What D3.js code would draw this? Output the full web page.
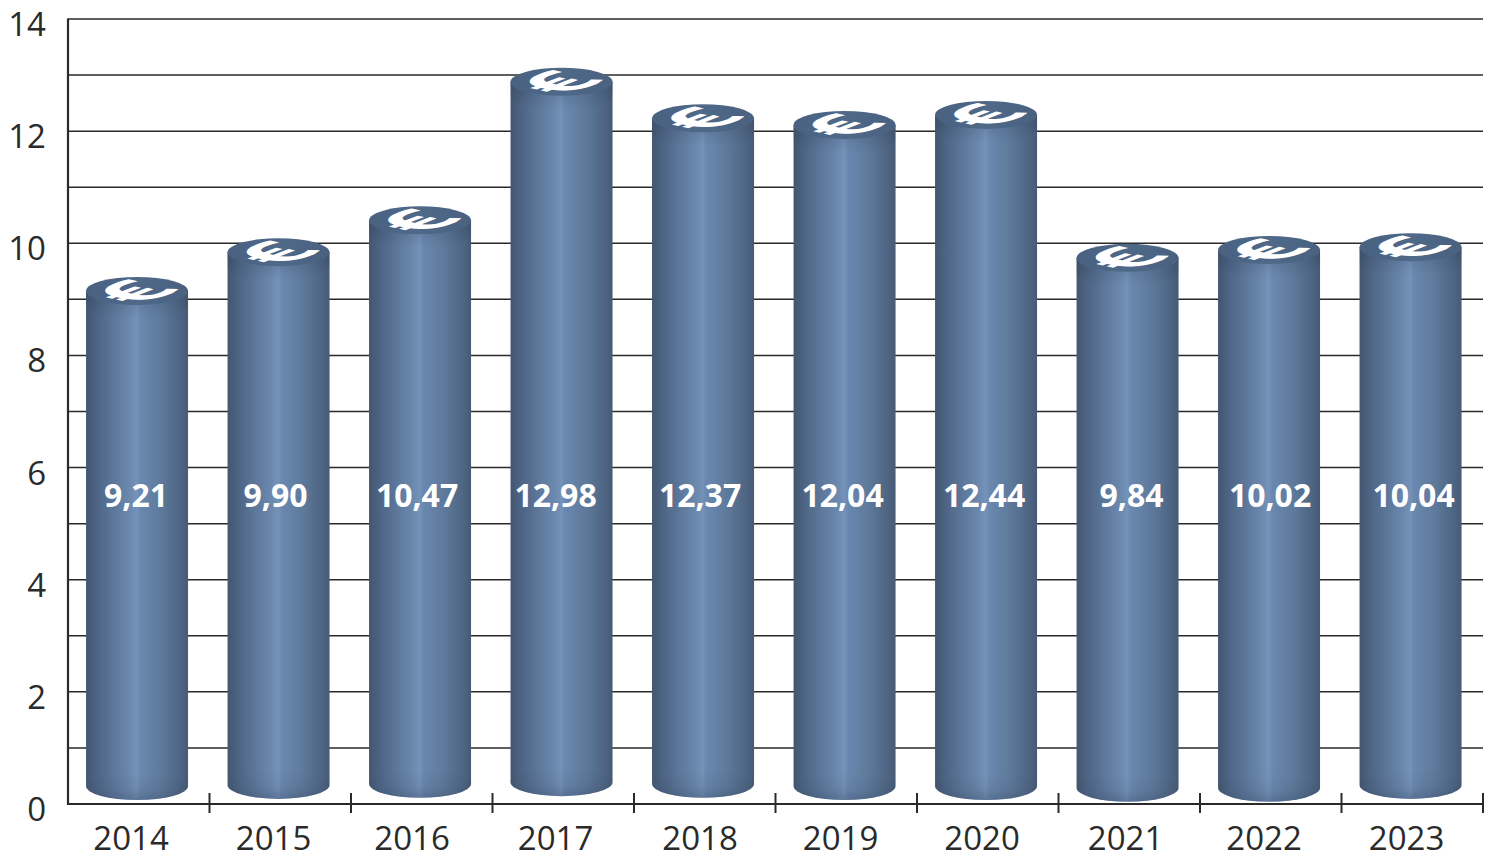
<!DOCTYPE html>
<html><head><meta charset="utf-8">
<script src="https://cdn.jsdelivr.net/npm/d3@7/dist/d3.min.js"></script>
<style>html,body{margin:0;padding:0;background:#fff}svg{display:block}text{font-family:"Open Sans","Noto Sans",sans-serif}</style>
</head><body><svg id="c" width="1500" height="865"></svg>
<script>
const years = ["2014","2015","2016","2017","2018","2019","2020","2021","2022","2023"];
const values = [9.21,9.90,10.47,12.98,12.37,12.04,12.44,9.84,10.02,10.04];
const valueLabels = ["9,21","9,90","10,47","12,98","12,37","12,04","12,44","9,84","10,02","10,04"];
// cylinder ends as actually drawn
const cylinderTop = [9.15,9.84,10.41,12.88,12.23,12.11,12.29,9.74,9.88,9.93];
const cylinderBase = [0.32,0.34,0.36,0.39,0.36,0.32,0.32,0.29,0.29,0.34];
const yTicks = d3.range(0,15,1);
const yLabelTicks = d3.range(0,15,2);

const W=1500,H=865,L=68,R=1483,T=19,B=804;
const svg=d3.select("#c");
const y=d3.scaleLinear().domain([0,14]).range([B,T]);
const x=d3.scaleBand().domain(years).range([L,R]).padding(0);
const barW=102, ry=14, shift=-1.7;
const cx=d=>x(d)+x.bandwidth()/2+shift;
const labelNudge=[-1,-3,-3,-6,-3,-2,-2,4,1,3];
const tickNudge=[-6,-5,-8,-6,-3,-4,-4,-2,-5,-4];
const ink="#2a2a2a";

const defs=svg.append("defs");
const grad=defs.append("linearGradient").attr("id","side");
[[0,"#43566f"],[.08,"#4b6180"],[.25,"#5b7598"],[.42,"#6a87ad"],[.5,"#7592b8"],[.53,"#6a88b0"],[.75,"#5d7899"],[.92,"#4e6583"],[1,"#465a75"]]
 .forEach(([o,c])=>grad.append("stop").attr("offset",o).attr("stop-color",c));
const topG=defs.append("linearGradient").attr("id","top");
[[0,"#4a6180"],[.5,"#4f6989"],[1,"#4a6180"]].forEach(([o,c])=>topG.append("stop").attr("offset",o).attr("stop-color",c));
const shade=defs.append("linearGradient").attr("id","shade").attr("x1",0).attr("x2",0).attr("y1",0).attr("y2",1);
[[0,0],[.6,.1],[1,.32]].forEach(([o,a])=>shade.append("stop").attr("offset",o).attr("stop-color","#2f4058").attr("stop-opacity",a));
const rim=defs.append("linearGradient").attr("id","rim").attr("x1",0).attr("x2",0).attr("y1",0).attr("y2",1);
[[0,.3],[1,0]].forEach(([o,a])=>rim.append("stop").attr("offset",o).attr("stop-color","#2f4058").attr("stop-opacity",a));

// gridlines
svg.append("g").selectAll("line").data(yTicks.filter(d=>d>0)).join("line")
 .attr("x1",L).attr("x2",R).attr("y1",d=>y(d)).attr("y2",d=>y(d))
 .attr("stroke",ink).attr("stroke-width",1.5);

// axes
svg.append("line").attr("x1",L).attr("x2",L).attr("y1",T-0.5).attr("y2",B+1).attr("stroke",ink).attr("stroke-width",2.2);
svg.append("line").attr("x1",L).attr("x2",R).attr("y1",B).attr("y2",B).attr("stroke",ink).attr("stroke-width",2);
svg.append("g").selectAll("line").data(years.slice(1).concat(["end"])).join("line")
 .attr("x1",d=>d==="end"?R:x(d)).attr("x2",d=>d==="end"?R:x(d))
 .attr("y1",B-11).attr("y2",B+9).attr("stroke",ink).attr("stroke-width",2);

svg.append("g").selectAll("text").data(yLabelTicks).join("text")
 .attr("x",46).attr("y",d=>y(d)+17).attr("text-anchor","end")
 .attr("font-size",33).attr("fill",ink).text(d=>d);
svg.append("g").selectAll("text").data(years).join("text")
 .attr("x",(d,i)=>cx(d)+tickNudge[i]).attr("y",850).attr("text-anchor","middle")
 .attr("font-size",33).attr("fill",ink).text(d=>d);

// cylinders
const cyl=svg.append("g").selectAll("g").data(years).join("g");
cyl.append("path").attr("fill","url(#side)").attr("d",(d,i)=>{
  const a=cx(d)-barW/2,b=cx(d)+barW/2,t=y(cylinderTop[i]),u=y(cylinderBase[i]);
  return `M${a},${t}L${a},${u}A${barW/2},${ry} 0 0 0 ${b},${u}L${b},${t}Z`;
});
// soft darkening at the foot of the cylinder
cyl.append("path").attr("fill","url(#shade)").attr("d",(d,i)=>{
  const a=cx(d)-barW/2,b=cx(d)+barW/2,u=y(cylinderBase[i]);
  return `M${a},${u}A${barW/2},${ry} 0 0 1 ${b},${u}A${barW/2},${ry} 0 0 1 ${a},${u}Z`;
});
// shadow band under the rim of the top face
cyl.append("path").attr("fill","url(#rim)").attr("d",(d,i)=>{
  const a=cx(d)-barW/2,b=cx(d)+barW/2,t=y(cylinderTop[i]);
  return `M${a},${t}L${a},${t+14}A${barW/2},${ry} 0 0 0 ${b},${t+14}L${b},${t}Z`;
});
cyl.append("ellipse").attr("cx",d=>cx(d)).attr("cy",(d,i)=>y(cylinderTop[i]))
 .attr("rx",barW/2).attr("ry",ry).attr("fill","url(#top)");
// euro coin glyph, lying flat on the cylinder's top
cyl.append("text").text("€")
 .attr("transform",(d,i)=>`translate(${cx(d)-3},${y(cylinderTop[i])+1}) matrix(0.9,0.2,0.95,-0.36,0,0) rotate(90)`)
 .attr("text-anchor","middle").attr("dy","0.36em").attr("font-size",80).attr("font-weight",700).attr("fill","#fff");

svg.append("g").selectAll("text").data(valueLabels).join("text")
 .attr("x",(d,i)=>cx(years[i])+labelNudge[i]).attr("y",507).attr("text-anchor","middle")
 .attr("font-size",32).attr("font-weight",700).attr("fill","#fff").text(d=>d);
</script></body></html>
